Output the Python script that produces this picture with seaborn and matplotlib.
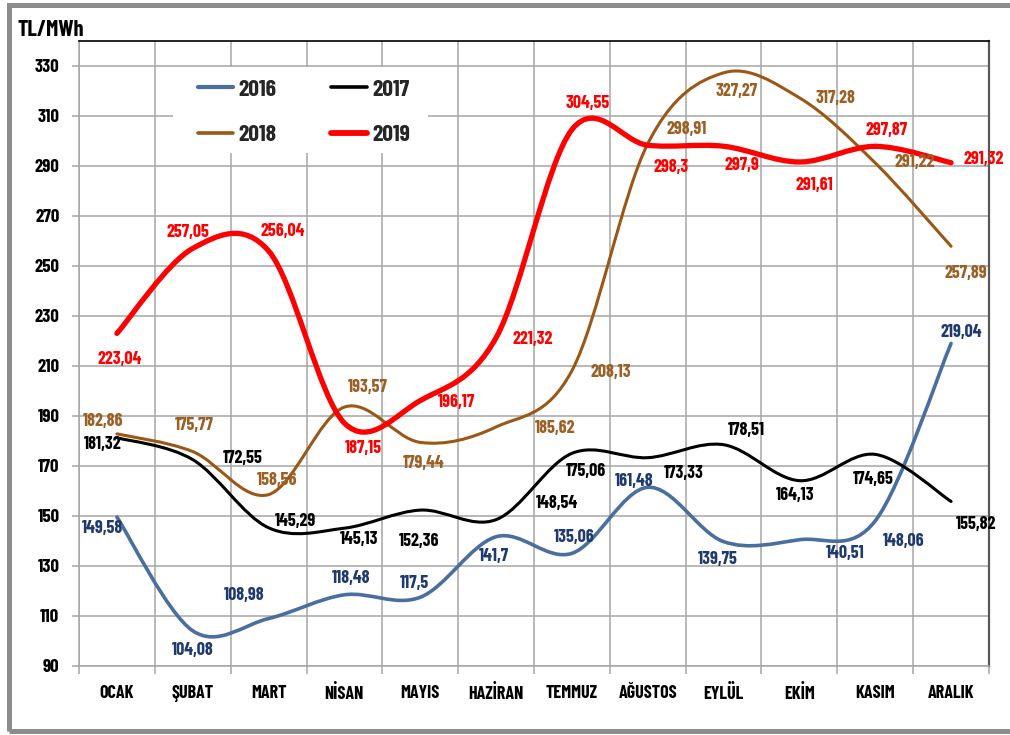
import matplotlib
matplotlib.use("Agg")
import matplotlib.pyplot as plt
from matplotlib.path import Path
from matplotlib.patches import PathPatch, Rectangle
from matplotlib.lines import Line2D
from matplotlib.ticker import FixedLocator
import seaborn as sns
import pandas as pd

# DATA
aylar = ["OCAK", "ŞUBAT", "MART", "NİSAN", "MAYIS", "HAZİRAN",
         "TEMMUZ", "AĞUSTOS", "EYLÜL", "EKİM", "KASIM", "ARALIK"]
yillar = ["2016", "2017", "2018", "2019"]
y2016 = [149.58, 104.08, 108.98, 118.48, 117.5, 141.7, 135.06, 161.48, 139.75, 140.51, 148.06, 219.04]
y2017 = [181.32, 172.55, 145.29, 145.13, 152.36, 148.54, 175.06, 173.33, 178.51, 164.13, 174.65, 155.82]
y2018 = [182.86, 175.77, 158.56, 193.57, 179.44, 185.62, 208.13, 298.91, 327.27, 317.28, 291.22, 257.89]
y2019 = [223.04, 257.05, 256.04, 187.15, 196.17, 221.32, 304.55, 298.3, 297.9, 291.61, 297.87, 291.32]
y_ticks = list(range(90, 331, 20))

# STYLE
line_colors = {"2016": "#4A6F9E", "2017": "#000000", "2018": "#9A5716", "2019": "#FF0000"}
text_colors = {"2016": "#1F3A6E", "2017": "#000000", "2018": "#9C5F24", "2019": "#FF0000"}
line_widths = {"2016": 2.6, "2017": 2.2, "2018": 2.2, "2019": 3.8}

# label offsets in pixels (dx right, dy down), placed by hand like the source chart
label_offsets = {
    "2016": [(-14, 11), (0, 20), (-24, -23), (7, -16), (-6, -14), (-2, 20),
             (2, -16), (-14, -6), (-6, 18), (46, 14), (28, 21), (10, -11)],
    "2017": [(-14, 7), (50, -1), (27, -6), (15, 11), (-1, 31), (61, -16),
             (14, 18), (36, 16), (23, -14), (-4, 15), (-2, 25), (25, 23)],
    "2018": [(-14, -12), (2, -26), (9, -14), (23, -20), (3, 21), (59, 2),
             (39, 2), (39, -14), (13, 19), (36, 1), (39, 0), (15, 27)],
    "2019": [(3, 26), (-5, -16), (14, -19), (19, 25), (36, 2), (37, 2),
             (16, -26), (23, 22), (18, 19), (15, 24), (11, -16), (33, -3)],
}

series = {"2016": y2016, "2017": y2017, "2018": y2018, "2019": y2019}
df = pd.concat([pd.DataFrame({"ay": aylar, "deger": v, "yil": k}) for k, v in series.items()],
               ignore_index=True)

sns.set_theme(style="white")
plt.rcParams["font.family"] = ["Barlow Condensed", "DejaVu Sans"]
plt.rcParams["font.weight"] = "bold"


def smooth_path(xy):
    # excel style smoothed line: cubic bezier through every point
    n = len(xy)
    verts = [tuple(xy[0])]
    codes = [Path.MOVETO]
    for i in range(n - 1):
        p0 = xy[i - 1] if i > 0 else xy[i]
        p1 = xy[i]
        p2 = xy[i + 1]
        p3 = xy[i + 2] if i + 2 < n else xy[i + 1]
        c1 = p1 + (p2 - p0) / 6.0
        c2 = p2 - (p3 - p1) / 6.0
        verts += [tuple(c1), tuple(c2), tuple(p2)]
        codes += [Path.CURVE4] * 3
    return Path(verts, codes)


fig = plt.figure(figsize=(10.1, 7.35), dpi=100)
ax = fig.add_axes([79 / 1010, 1 - 666 / 735, 910 / 1010, 625 / 735])

for yil in yillar:
    sub = df[df["yil"] == yil]
    sns.lineplot(data=sub, x="ay", y="deger", ax=ax, sort=False,
                 color=line_colors[yil], linewidth=line_widths[yil])
    ln = ax.lines[-1]
    xy = ln.get_xydata()
    ln.remove()
    ax.add_patch(PathPatch(smooth_path(xy), fill=False, edgecolor=line_colors[yil],
                           linewidth=line_widths[yil], capstyle="round", joinstyle="round",
                           zorder=3))
    for i, v in enumerate(series[yil]):
        dx, dy = label_offsets[yil][i]
        txt = f"{v:g}".replace(".", ",")
        ax.annotate(txt, xy=(i, v), xytext=(dx, -dy), textcoords="offset pixels",
                    ha="center", va="center", fontsize=13, fontweight="bold",
                    color=text_colors[yil], zorder=4, annotation_clip=False)

ax.set_xlim(-0.5, len(aylar) - 0.5)
ax.set_ylim(90, 340)
ax.set_xlabel("")
ax.set_ylabel("")

ax.set_xticks(range(len(aylar)))
ax.set_xticklabels(aylar)
ax.xaxis.set_minor_locator(FixedLocator([i - 0.5 for i in range(len(aylar) + 1)]))
ax.set_yticks(y_ticks)
ax.tick_params(axis="x", which="major", length=0, pad=14, labelsize=13)
ax.tick_params(axis="x", which="minor", bottom=True, length=6, width=1.1, color="#A6A6A6")
ax.tick_params(axis="y", left=True, length=5, width=1.1, color="#A6A6A6", pad=9, labelsize=13.5)
for lab in ax.get_xticklabels() + ax.get_yticklabels():
    lab.set_fontweight("bold")
    lab.set_color("#000000")

ax.set_axisbelow(True)
ax.grid(True, axis="y", which="major", color="#A6A6A6", linewidth=1.1)
ax.grid(True, axis="x", which="minor", color="#A6A6A6", linewidth=1.1)
ax.grid(False, axis="x", which="major")

for side in ["left", "bottom"]:
    ax.spines[side].set_color("#A6A6A6")
    ax.spines[side].set_linewidth(1.1)
ax.spines["top"].set_color("#000000")
ax.spines["top"].set_linewidth(1.2)
ax.spines["right"].set_color("#595959")
ax.spines["right"].set_linewidth(1.6)

# white box behind the legend, covering the grid
ax.add_patch(Rectangle((94 / 910, 513 / 625), 255 / 910, 86 / 625, transform=ax.transAxes,
                       facecolor="white", edgecolor="none", zorder=1))

handles = [Line2D([], [], color=line_colors[y], linewidth=line_widths[y] + 0.4) for y in yillar]
order = [0, 2, 1, 3]
leg = ax.legend([handles[i] for i in order], [yillar[i] for i in order], ncol=2,
                loc="center", bbox_to_anchor=(225 / 910, 554 / 625), frameon=False,
                prop={"size": 17, "weight": "bold"}, handlelength=1.5, handletextpad=0.25,
                columnspacing=2.3, labelspacing=1.05)
leg.set_zorder(5)

fig.text(17 / 1010, 1 - 30 / 735, "TL/MWh", fontsize=16, fontweight="bold",
         ha="left", va="center", color="#000000")

# grey frame around the whole picture
fig.patches.append(Rectangle((9 / 1010, 4 / 735), 1.2, 1 - 9 / 735, transform=fig.transFigure,
                             fill=False, edgecolor="#8C8C8C", linewidth=3.6, clip_on=False))

fig.savefig("out.png", dpi=100)
plt.close(fig)
